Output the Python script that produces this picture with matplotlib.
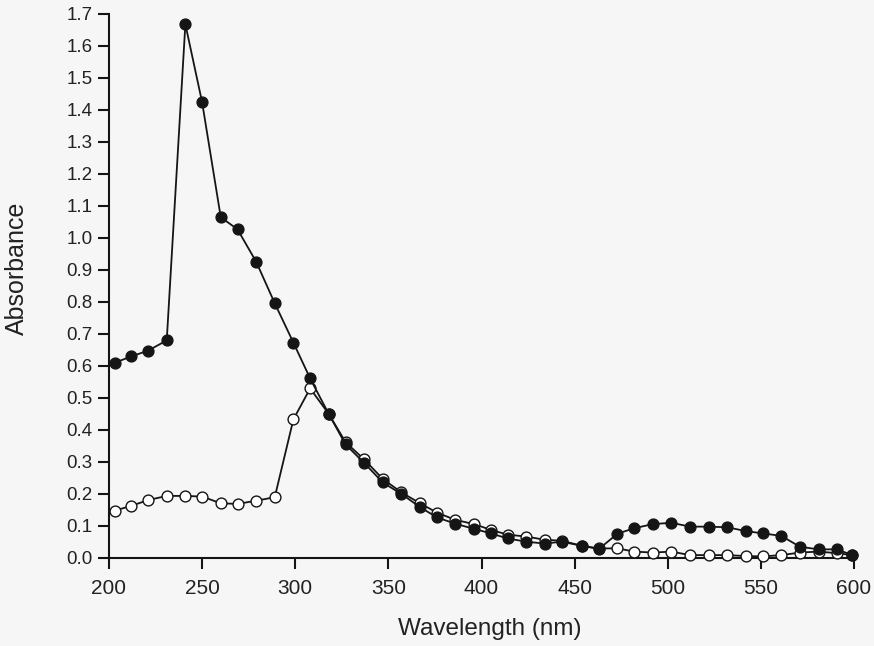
import matplotlib
matplotlib.use("Agg")
import matplotlib.pyplot as plt
from matplotlib.ticker import MultipleLocator, FormatStrFormatter

plt.rcParams['font.family'] = ['Liberation Sans', 'DejaVu Sans']

# wavelengths (nm)
wavelength = [203, 212, 221, 231, 241, 250, 260, 269, 279, 289,
              299, 308, 318, 327, 337, 347, 357, 367, 376, 386,
              396, 405, 414, 424, 434, 443, 454, 463, 473, 482,
              492, 502, 512, 522, 532, 542, 551, 561, 571, 581,
              591, 599]

# filled circles
absorb_filled = [0.610, 0.630, 0.648, 0.680, 1.668, 1.424, 1.065, 1.027, 0.926, 0.796,
                 0.673, 0.561, 0.450, 0.355, 0.297, 0.236, 0.200, 0.159, 0.127, 0.107,
                 0.091, 0.077, 0.061, 0.051, 0.045, 0.051, 0.038, 0.028, 0.076, 0.093,
                 0.106, 0.110, 0.098, 0.098, 0.096, 0.084, 0.077, 0.069, 0.035, 0.027,
                 0.027, 0.009]

# open circles
absorb_open = [0.148, 0.163, 0.181, 0.194, 0.194, 0.192, 0.171, 0.169, 0.179, 0.190,
               0.433, 0.530, 0.450, 0.362, 0.308, 0.247, 0.205, 0.171, 0.142, 0.119,
               0.106, 0.088, 0.073, 0.067, 0.057, 0.054, 0.038, 0.030, 0.030, 0.020,
               0.017, 0.020, 0.009, 0.009, 0.009, 0.006, 0.005, 0.009, 0.017, 0.020,
               0.015, 0.009]

bg = '#f6f6f6'
ink = '#151515'
txt = '#222222'

fig = plt.figure(figsize=(8.74, 6.46), dpi=100, facecolor=bg)
ax = fig.add_axes([109/874, 1 - 558/646, (854 - 109)/874, (558 - 14)/646])
ax.set_facecolor(bg)

ax.plot(wavelength, absorb_open, color=ink, lw=1.3, marker='o', ms=7.8,
        mfc='white', mec=ink, mew=1.0, clip_on=False, zorder=3)
ax.plot(wavelength, absorb_filled, color=ink, lw=1.3, marker='o', ms=7.8,
        mfc=ink, mec=ink, mew=1.0, clip_on=False, zorder=4)

ax.set_xlim(200, 600)
ax.set_ylim(0, 1.7)
ax.xaxis.set_major_locator(MultipleLocator(50))
ax.yaxis.set_major_locator(MultipleLocator(0.1))
ax.yaxis.set_major_formatter(FormatStrFormatter('%.1f'))

for s in ['top', 'right']:
  ax.spines[s].set_visible(False)
for s in ['left', 'bottom']:
  ax.spines[s].set_linewidth(1.5)
  ax.spines[s].set_color(ink)

ax.tick_params(axis='x', direction='out', length=8, width=1.5, color=ink,
               labelsize=15, labelcolor=txt, pad=7)
ax.tick_params(axis='y', direction='out', length=8, width=1.5, color=ink,
               labelsize=13.5, labelcolor=txt, pad=4)

fig.text(490/874, 1 - 629/646, 'Wavelength (nm)', ha='center', va='center',
         fontsize=17.5, color=txt)
fig.text(17/874, 1 - 268/646, 'Absorbance', ha='center', va='center',
         rotation=90, fontsize=18, color=txt)

fig.savefig('out.png', dpi=100, facecolor=bg)
